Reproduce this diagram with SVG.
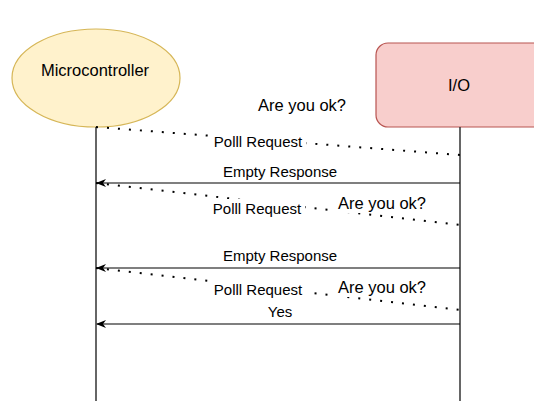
<svg xmlns="http://www.w3.org/2000/svg" width="534" height="401" viewBox="0 0 534 401">
<style>
text{font-family:"Liberation Sans",Arial,sans-serif;fill:#000;text-anchor:middle;dominant-baseline:central}
.s{font-size:15px}
.b{font-size:16.5px}
.life{stroke:#333;stroke-width:1.5;fill:none}
.dot{stroke:#000;stroke-width:2;stroke-dasharray:2 9;fill:none}
.msg{stroke:#000;stroke-width:1.2;fill:none;marker-end:url(#arr)}
.bg{fill:#fff}
</style>
<defs>
<marker id="arr" viewBox="0 0 10 8" refX="9" refY="4" markerWidth="10" markerHeight="8" markerUnits="userSpaceOnUse" orient="auto">
<path d="M0,0 L10,4 L0,8 L3,4 Z" fill="#000"/>
</marker>
</defs>
<g id="microcontroller">
<ellipse cx="96" cy="78" rx="84" ry="49" fill="#fff2cc" stroke="#d6b656" stroke-width="1.2"/>
<text class="b" x="95" y="70">Microcontroller</text>
</g>
<g id="io">
<rect x="376" y="43" width="170" height="84" rx="12" fill="#f8cecc" stroke="#b85450" stroke-width="1.2"/>
<text class="b" x="459" y="85">I/O</text>
</g>
<g id="connectors">
<line class="life" x1="96" y1="127" x2="96" y2="401"/>
<line class="life" x1="460" y1="127" x2="460" y2="401"/>
<line class="dot" x1="96" y1="127" x2="460" y2="155"/>
<line class="msg" x1="460" y1="183" x2="97" y2="183"/>
<line class="dot" x1="96" y1="183" x2="460" y2="225"/>
<line class="msg" x1="460" y1="268" x2="97" y2="268"/>
<line class="dot" x1="96" y1="268" x2="460" y2="310"/>
<line class="msg" x1="460" y1="324" x2="97" y2="324"/>
</g>
<g id="labels">
<text class="b" x="302" y="105">Are you ok?</text>
<rect class="bg" x="212" y="132" width="94" height="18"/>
<text class="s" x="258" y="141">Polll Request</text>
<text class="s" x="280" y="171">Empty Response</text>
<rect class="bg" x="211" y="199" width="94" height="18"/>
<text class="s" x="257" y="208">Polll Request</text>
<rect class="bg" x="336" y="193" width="92" height="20"/>
<text class="b" x="382" y="203">Are you ok?</text>
<text class="s" x="280" y="255">Empty Response</text>
<rect class="bg" x="212" y="280" width="94" height="18"/>
<text class="s" x="258" y="289">Polll Request</text>
<rect class="bg" x="336" y="277" width="92" height="20"/>
<text class="b" x="382" y="287">Are you ok?</text>
<text class="s" x="280" y="311">Yes</text>
</g>
</svg>
